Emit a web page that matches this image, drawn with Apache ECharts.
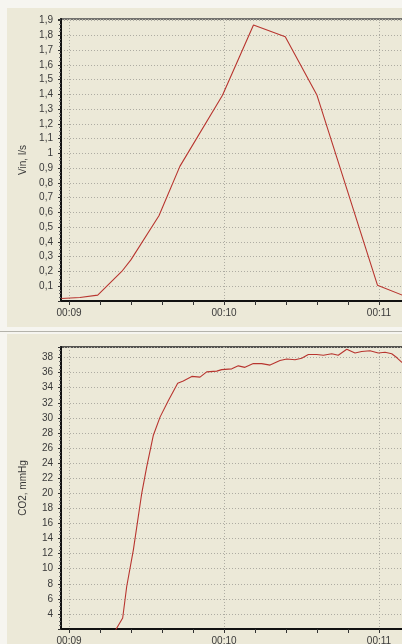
<!DOCTYPE html>
<html>
<head>
<meta charset="utf-8">
<script src="https://cdn.jsdelivr.net/npm/echarts@6/dist/echarts.min.js"></script>
<style>
html,body{margin:0;padding:0;background:#f6f5f0;}
#c{width:402px;height:644px;}
</style>
</head>
<body>
<div id="c"></div>
<script>
// Time in seconds (00:09 = 9)
const VIN_T = [8.95, 9.07, 9.185, 9.34, 9.40, 9.58, 9.715, 9.99, 10.19, 10.395, 10.6, 10.99, 11.15, 11.3];
const VIN_V = [0.017, 0.024, 0.04, 0.20, 0.28, 0.577, 0.912, 1.393, 1.87, 1.79, 1.393, 0.107, 0.04, 0.01];

const CO2_T = [9.29, 9.346, 9.372, 9.415, 9.469, 9.501, 9.544, 9.587, 9.641, 9.701, 9.737, 9.792, 9.845, 9.888, 9.953, 9.985, 10.05, 10.092, 10.135, 10.189, 10.243, 10.297, 10.361, 10.405, 10.458, 10.501, 10.544, 10.598, 10.641, 10.695, 10.737, 10.792, 10.845, 10.888, 10.942, 10.995, 11.039, 11.082, 11.114, 11.146, 11.2];
const CO2_V = [1.5, 3.46, 7.64, 12.5, 20.0, 23.5, 27.7, 30.1, 32.3, 34.6, 34.9, 35.5, 35.4, 36.1, 36.2, 36.4, 36.5, 36.9, 36.7, 37.2, 37.2, 37.0, 37.6, 37.8, 37.7, 37.9, 38.4, 38.4, 38.3, 38.5, 38.3, 39.1, 38.6, 38.8, 38.9, 38.6, 38.7, 38.5, 38.0, 37.4, 36.6];

const X_TICKS = [9.0, 9.2, 9.4, 9.6, 9.8, 10.0, 10.2, 10.4, 10.6, 10.8, 11.0, 11.2];
const X_LABELS = [9, 10, 11];

const X_MIN = 8.948, X_MAX = 11.329;
const VIN_MIN = 0, VIN_MAX = 1.91, VIN_STEP = 0.1;
const CO2_MIN = 2, CO2_MAX = 39.4, CO2_STEP = 2;

const FONT = 'Liberation Sans, Arial, sans-serif';
const TXT = '#3a3a3a';
const BEIGE = '#ece9d8';

function fmtTime(v){ const s = Math.round(v); return '00:' + (s < 10 ? '0' + s : s); }

const chart = echarts.init(document.getElementById('c'), null, {renderer: 'canvas'});

function xAxes(gi){
  return [{
    gridIndex: gi, type: 'value', min: X_MIN, max: X_MAX, position: 'bottom',
    axisLine: {show: true, onZero: false, lineStyle: {color: '#111', width: 2}},
    axisTick: {show: true, inside: false, length: 4, customValues: X_TICKS, lineStyle: {color: '#333', width: 1}},
    axisLabel: {customValues: X_LABELS, formatter: fmtTime, color: TXT, fontFamily: FONT, fontSize: 10, margin: 7},
    splitLine: {show: false}
  },{
    gridIndex: gi, type: 'value', min: X_MIN, max: X_MAX, position: 'bottom',
    axisLine: {show: false}, axisTick: {show: false, customValues: X_LABELS},
    axisLabel: {show: false, customValues: X_LABELS},
    splitLine: {show: true, lineStyle: {color: '#aeaca2', type: [1, 2], width: 1}}
  }];
}

function yAxis(gi, min, max, step, name, fmt){
  return {
    gridIndex: gi, type: 'value', min: min, max: max, interval: step,
    name: name, nameLocation: 'middle', nameGap: 33, nameRotate: 90,
    nameTextStyle: {color: TXT, fontFamily: FONT, fontSize: 10},
    axisLine: {show: true, onZero: false, lineStyle: {color: '#111', width: 2}},
    axisTick: {show: true, inside: false, length: 3, lineStyle: {color: '#333'}},
    minorTick: {show: true, splitNumber: 4, length: 2, lineStyle: {color: '#666'}},
    axisLabel: {color: TXT, fontFamily: FONT, fontSize: 10, margin: 8, formatter: fmt},
    splitLine: {show: true, lineStyle: {color: '#aeaca2', type: [1, 2], width: 1}}
  };
}

function vinFmt(v){
  const k = v / VIN_STEP;
  if (Math.abs(k - Math.round(k)) > 1e-6 || Math.round(k) === 0) return '';
  const r = Math.round(k) / 10;
  return String(r).replace('.', ',');
}
function co2Fmt(v){
  const k = v / CO2_STEP;
  if (Math.abs(k - Math.round(k)) > 1e-6 || Math.round(k) === 1) return '';
  return String(Math.round(v));
}

const vinData = VIN_T.map((t, i) => [t, VIN_V[i]]);
const co2Data = CO2_T.map((t, i) => [t, CO2_V[i]]);

const option = {
  animation: false,
  backgroundColor: '#f6f5f0',
  graphic: [
    {type: 'rect', z: -100, silent: true, shape: {x: 7, y: 8, width: 400, height: 319}, style: {fill: BEIGE}},
    {type: 'rect', z: -100, silent: true, shape: {x: 7, y: 334, width: 400, height: 320}, style: {fill: BEIGE}},
    {type: 'line', z: -99, silent: true, shape: {x1: 0, y1: 331.5, x2: 402, y2: 331.5}, style: {stroke: '#b4b3ab', lineWidth: 1}}
  ],
  grid: [
    {left: 61, top: 19, width: 369, height: 282, outerBoundsMode: 'none', containLabel: false, show: true, borderColor: '#4a4a4a', borderWidth: 1.5, backgroundColor: 'transparent'},
    {left: 61, top: 347, width: 369, height: 282, outerBoundsMode: 'none', containLabel: false, show: true, borderColor: '#222', borderWidth: 1.5, backgroundColor: 'transparent'}
  ],
  xAxis: xAxes(0).concat(xAxes(1)),
  yAxis: [
    yAxis(0, VIN_MIN, VIN_MAX, VIN_STEP, 'Vin, l/s', vinFmt),
    yAxis(1, CO2_MIN, CO2_MAX, CO2_STEP, 'CO2, mmHg', co2Fmt)
  ],
  series: [
    {type: 'line', xAxisIndex: 0, yAxisIndex: 0, data: vinData, showSymbol: false, clip: true,
     lineStyle: {color: '#b8352f', width: 1.1}, z: 5},
    {type: 'line', xAxisIndex: 2, yAxisIndex: 1, data: co2Data, showSymbol: false, clip: true,
     lineStyle: {color: '#b8352f', width: 1.1}, z: 5}
  ]
};
chart.setOption(option);
</script>
</body>
</html>
